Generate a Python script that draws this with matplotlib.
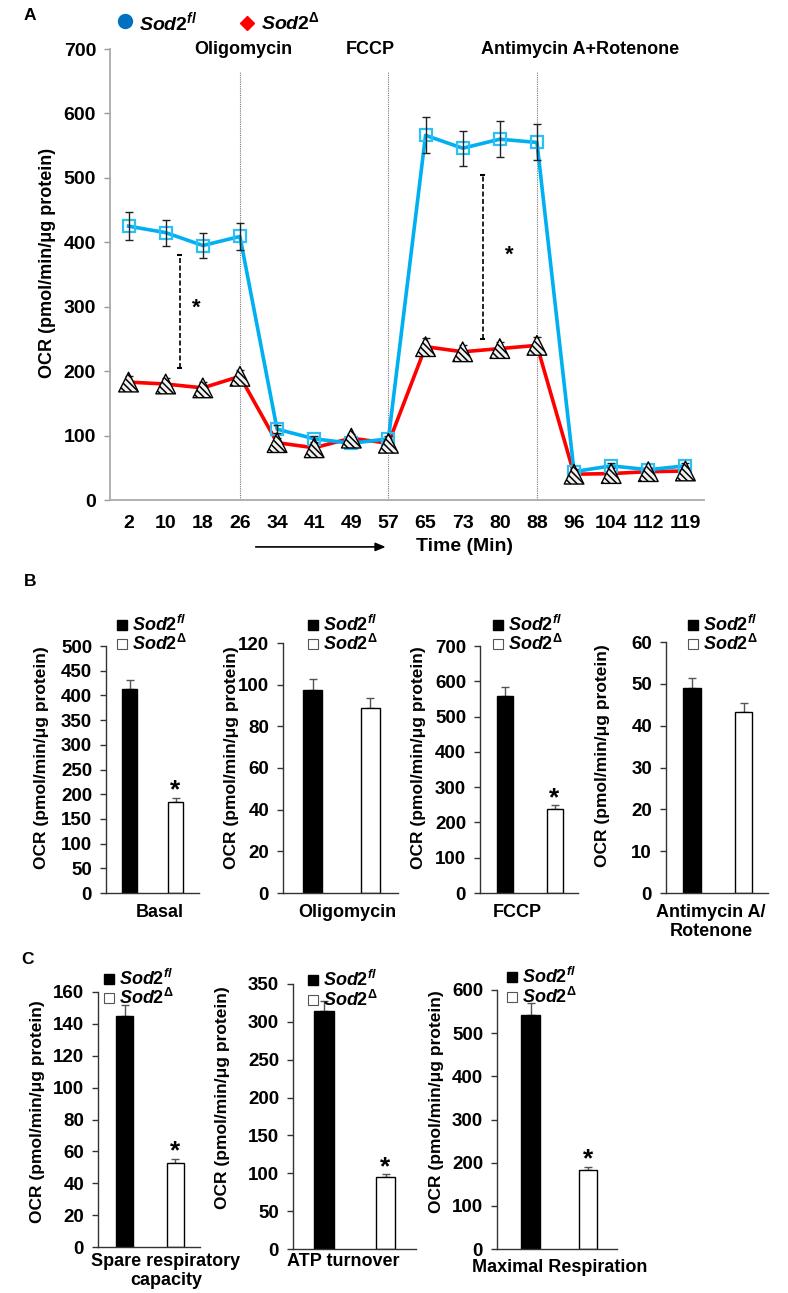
import numpy as np
import matplotlib
matplotlib.use("Agg")
import matplotlib.pyplot as plt
from matplotlib.lines import Line2D

plt.rcParams['font.family'] = ['Liberation Sans', 'DejaVu Sans']
plt.rcParams['font.weight'] = 'bold'
plt.rcParams['mathtext.fontset'] = 'custom'
plt.rcParams['mathtext.it'] = 'Liberation Sans:italic:bold'
plt.rcParams['mathtext.rm'] = 'Liberation Sans:bold'
plt.rcParams['mathtext.bf'] = 'Liberation Sans:bold'
plt.rcParams['hatch.linewidth'] = 1.1

# ---------------- data ----------------
times = [2, 10, 18, 26, 34, 41, 49, 57, 65, 73, 80, 88, 96, 104, 112, 119]
fl_mean = [425, 415, 395, 409, 110, 95, 88, 95, 566, 546, 560, 555, 44, 53, 47, 53]
fl_err = [22, 20, 19, 21, 6, 5, 5, 5, 28, 27, 28, 28, 4, 4, 3, 4]
del_mean = [183, 180, 174, 192, 89, 81, 96, 88, 238, 230, 235, 240, 40, 41, 44, 45]
del_err = [9, 9, 9, 9, 7, 7, 7, 7, 13, 11, 11, 13, 4, 4, 4, 5]

injections = ['Oligomycin', 'FCCP', 'Antimycin A+Rotenone']
injection_idx = [3, 7, 11]

b_labels = ['Basal', 'Oligomycin', 'FCCP', 'Antimycin A/\nRotenone']
b_fl = [412, 97.5, 557, 49]
b_fl_err = [20, 5, 26, 2.3]
b_del = [185, 89, 237, 43.3]
b_del_err = [8, 4.7, 11, 2.0]
b_ymax = [500, 120, 700, 60]
b_ystep = [50, 20, 100, 10]
b_star = [True, False, True, False]

c_labels = ['Spare respiratory\ncapacity', 'ATP turnover', 'Maximal Respiration']
c_fl = [145, 315, 543]
c_fl_err = [7, 13, 27]
c_del = [53, 95, 183]
c_del_err = [2.5, 4, 8]
c_ymax = [160, 350, 600]
c_ystep = [20, 50, 100]
c_star = [True, True, True]

LBL_FL = r'$\mathit{Sod2}^{\mathit{fl}}$'
LBL_DEL = r'$\mathit{Sod2}^{\Delta}$'
YLAB = 'OCR (pmol/min/\u03bcg protein)'

W, H = 788, 1293
fig = plt.figure(figsize=(W / 100, H / 100), dpi=100)


def fx(x):
    return x / W


def fy(y):
    return 1 - y / H


def add_axes(l, t, r, b):
    return fig.add_axes([fx(l), fy(b), (r - l) / W, (b - t) / H])


# ---------------- Panel A ----------------
axA = add_axes(110, 49, 704, 500)
idx = np.arange(len(times))
blue = '#00B0F0'
red = '#FF0000'
axA.plot(idx, del_mean, color=red, lw=2.6, zorder=2)
axA.plot(idx, fl_mean, color=blue, lw=2.6, zorder=3)
axA.plot(idx, fl_mean, 's', ms=9, mfc='none', mec='#2EC0F5', mew=1.6, zorder=4)
axA.errorbar(idx, fl_mean, yerr=fl_err, fmt='none', ecolor='#222222', elinewidth=1,
             capsize=3, capthick=1, zorder=5)
axA.errorbar(idx, del_mean, yerr=del_err, fmt='none', ecolor='#222222', elinewidth=1,
             capsize=3, capthick=1, zorder=5)
axA.scatter(idx, del_mean, marker='^', s=200, facecolor='#f0f0f0', edgecolor='black',
            hatch='\\\\\\\\\\', linewidths=1.0, zorder=6)
axA.vlines(injection_idx, 0, 665, colors='#777777', linestyles=(0, (1, 1)), lw=0.8, zorder=1)

axA.set_xlim(-0.5, 15.5)
axA.set_ylim(0, 700)
axA.set_yticks(np.arange(0, 701, 100))
axA.set_xticks(idx)
axA.set_xticklabels([str(t) for t in times])
axA.tick_params(axis='x', length=0, pad=11, labelsize=14)
axA.tick_params(axis='y', length=4, width=1, color='#999999', pad=6, labelsize=14)
for s in ['top', 'right']:
    axA.spines[s].set_visible(False)
for s in ['left', 'bottom']:
    axA.spines[s].set_color('#AAAAAA')
    axA.spines[s].set_linewidth(1.3)

# injection labels
inj_x = [3.1, 6.52, 12.17]
for name, xx in zip(injections, inj_x):
    axA.text(xx, 700, name, ha='center', va='center', fontsize=13)

# significance brackets
for (xx, y0, y1, sx, sy) in [(1.38, 205, 380, 1.83, 298), (9.54, 250, 504, 10.26, 380)]:
    axA.vlines(xx, y0, y1, colors='black', linestyles=(0, (3, 1.5)), lw=1.2)
    axA.hlines([y0, y1], xx - 0.07, xx + 0.07, colors='black', lw=1.5)
    axA.text(sx, sy, '*', ha='center', va='center', fontsize=16)

# arrow and Time label
trans = axA.get_xaxis_transform()
axA.annotate('', xy=(7.0, -0.104), xytext=(3.35, -0.104), xycoords=trans, textcoords=trans,
             arrowprops=dict(arrowstyle='-|>,head_length=0.6,head_width=0.25', color='black', lw=1.2),
             annotation_clip=False)
axA.text(7.73, -0.104, 'Time (Min)', transform=trans, ha='left', va='center', fontsize=14)

fig.text(fx(48), fy(263), YLAB, rotation=90, ha='center', va='center', fontsize=13)

# legend A
fig.add_artist(Line2D([fx(125)], [fy(21)], marker='o', ms=10, color='#0070C0', transform=fig.transFigure))
fig.add_artist(Line2D([fx(247)], [fy(23)], marker='D', ms=7.5, color='red', transform=fig.transFigure))
fig.text(fx(139), fy(22), LBL_FL, ha='left', va='center', fontsize=14)
fig.text(fx(261), fy(22), LBL_DEL, ha='left', va='center', fontsize=14)

fig.text(fx(30), fy(16), 'A', ha='center', va='center', fontsize=12.5)
fig.text(fx(30), fy(581), 'B', ha='center', va='center', fontsize=12.5)
fig.text(fx(27), fy(959), 'C', ha='center', va='center', fontsize=12.5)


# ---------------- bar panels ----------------
def bar_panel(box, centers, bw, flv, fle, dlv, dle, ymax, ystep, star,
              leg, ylab_xy, xlab, xlab_xy):
    l, t, r, b = box
    c0, c1 = centers
    sp = c1 - c0
    ax = add_axes(l, t, r, b)
    w = bw / sp
    ax.bar([0], [flv], width=w, color='black', edgecolor='black', lw=1, zorder=2)
    ax.bar([1], [dlv], width=w, color='white', edgecolor='black', lw=1, zorder=2)
    ax.errorbar([0], [flv], yerr=[[0], [fle]], fmt='none', ecolor='#555555',
                elinewidth=1, capsize=3, capthick=1, zorder=1)
    ax.errorbar([1], [dlv], yerr=[[0], [dle]], fmt='none', ecolor='#555555',
                elinewidth=1, capsize=3, capthick=1, zorder=1)
    if star:
        ax.annotate('*', xy=(1, dlv + dle), xytext=(0, 0), textcoords='offset points',
                    ha='center', va='baseline', fontsize=19)
    ax.set_xlim((l - c0) / sp, (r - c0) / sp)
    ax.set_ylim(0, ymax)
    ax.set_yticks(np.arange(0, ymax + ystep / 2, ystep))
    ax.set_xticks([])
    ax.tick_params(axis='y', length=4, width=1, color='#333333', pad=6, labelsize=13.5)
    for s in ['top', 'right']:
        ax.spines[s].set_visible(False)
    for s in ['left', 'bottom']:
        ax.spines[s].set_color('#333333')
        ax.spines[s].set_linewidth(1.0)
    mx, my1, my2, tx = leg
    fig.add_artist(Line2D([fx(mx)], [fy(my1)], marker='s', ms=7, mfc='black', mec='black',
                          transform=fig.transFigure))
    fig.add_artist(Line2D([fx(mx)], [fy(my2)], marker='s', ms=7, mfc='white', mec='#555555',
                          mew=0.8, transform=fig.transFigure))
    fig.text(fx(tx), fy(my1), LBL_FL, ha='left', va='center', fontsize=13)
    fig.text(fx(tx), fy(my2), LBL_DEL, ha='left', va='center', fontsize=13)
    fig.text(fx(ylab_xy[0]), fy(ylab_xy[1]), YLAB, rotation=90, ha='center', va='center',
             fontsize=12.5)
    fig.text(fx(xlab_xy[0]), fy(xlab_xy[1]), xlab, ha='center', va='top', fontsize=13,
             linespacing=1.15)
    return ax


b_boxes = [(106, 646, 199, 893), (283, 643, 398, 893), (480, 646, 578, 893), (666, 642, 768, 893)]
b_centers = [(129.5, 175.5), (312.5, 370), (505, 554.5), (692, 743.5)]
b_bw = [15.5, 19, 16, 17.5]
b_leg = [(122, 625, 644, 132), (313, 625, 644, 323), (498, 625, 644, 508), (693, 625, 644, 703)]
b_ylab = [(42, 758), (231, 758), (419, 758), (602, 756)]
b_xlab = [(160, 904), (347, 904), (517, 904), (711, 904)]

for i in range(4):
    bar_panel(b_boxes[i], b_centers[i], b_bw[i], b_fl[i], b_fl_err[i], b_del[i], b_del_err[i],
              b_ymax[i], b_ystep[i], b_star[i], b_leg[i], b_ylab[i], b_labels[i], b_xlab[i])

c_boxes = [(98, 992, 200, 1247), (293, 984, 416, 1249), (497, 990, 617, 1249)]
c_centers = [(124.5, 175), (324, 385.5), (530.5, 588)]
c_bw = [17, 19.5, 18.5]
c_leg = [(109, 979, 998, 119), (313, 980, 1000, 323), (512, 977, 997, 522)]
c_ylab = [(38, 1112), (222, 1098), (437, 1102)]
c_xlab = [(166, 1253), (343, 1253), (560, 1259)]

for i in range(3):
    bar_panel(c_boxes[i], c_centers[i], c_bw[i], c_fl[i], c_fl_err[i], c_del[i], c_del_err[i],
              c_ymax[i], c_ystep[i], c_star[i], c_leg[i], c_ylab[i], c_labels[i], c_xlab[i])

fig.savefig('out.png', dpi=100)
